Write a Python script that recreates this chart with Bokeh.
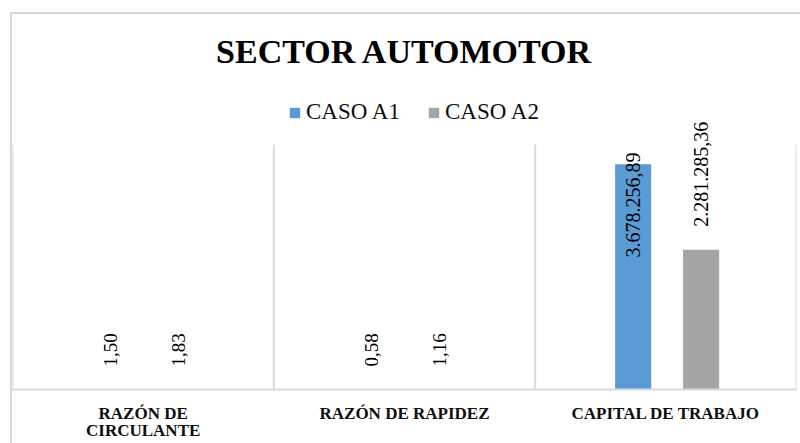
import math
from bokeh.plotting import figure
from bokeh.models import (ColumnDataSource, FactorRange, Range1d, Legend,
                          LegendItem, LabelSet, CategoricalAxis)
from bokeh.transform import dodge
from bokeh.embed import file_html
from bokeh.resources import INLINE

# ---------------- data ----------------
categories = ["RAZÓN DE CIRCULANTE", "RAZÓN DE RAPIDEZ", "CAPITAL DE TRABAJO"]
caso_a1 = [1.50, 0.58, 3678256.89]
caso_a2 = [1.83, 1.16, 2281285.36]
series_names = ["CASO A1", "CASO A2"]
axis_max = 4000000
title_text = "SECTOR AUTOMOTOR"
category_label_lines = {"RAZÓN DE CIRCULANTE": ["RAZÓN DE", "CIRCULANTE"]}

# ---------------- layout / styling ----------------
W, H = 800, 443
frame_top, axis_top_px, frame_bottom = 74, 144, 389   # pixel rows of the plot
series_colors = ["#5B9BD5", "#A5A5A5"]
series_offsets = [-0.125, 0.135]
bar_width = 0.138
grid_color = "#d9d9d9"
label_font = "Liberation Serif"

# extend the data range above the value axis so that labels/legend fit inside
y_end = axis_max * (frame_bottom - frame_top) / (frame_bottom - axis_top_px)


def fmt_es(v):
    s = f"{v:,.2f}"
    return s.replace(",", "§").replace(".", ",").replace("§", ".")


# category labels split into the two printed lines
first_lines = [category_label_lines.get(c, [c])[0] for c in categories]
second_lines = [category_label_lines[c][1] if c in category_label_lines else " " * (i + 1)
                for i, c in enumerate(categories)]

src = ColumnDataSource(dict(cat=categories, a1=caso_a1, a2=caso_a2))

p = figure(x_range=FactorRange(factors=categories, range_padding=0),
           y_range=Range1d(0, y_end),
           x_axis_location=None, y_axis_location=None,
           width=W, height=H,
           output_backend="svg", toolbar_location=None,
           min_border_left=12, min_border_right=4,
           min_border_top=frame_top, min_border_bottom=H - frame_bottom)

p.extra_x_ranges = {"line1": FactorRange(factors=first_lines, range_padding=0),
                    "line2": FactorRange(factors=second_lines, range_padding=0)}

p.background_fill_color = None
p.border_fill_color = None
p.outline_line_color = None
p.grid.visible = False
p.styles = {"box-shadow": "inset 10px 12px 0 0 #ffffff, inset 12px 14px 0 0 #d9d9d9",
            "background": "#ffffff"}

p.title.text = title_text
p.title.align = "center"
p.title.offset = 5
p.title.text_font = "Liberation Serif"
p.title.text_font_style = "bold"
p.title.text_font_size = "34px"
p.title.text_color = "#000000"

axis_style = dict(major_tick_line_color=None, minor_tick_line_color=None,
                  major_tick_out=0, major_tick_in=0,
                  major_label_text_font=label_font,
                  major_label_text_font_style="bold",
                  major_label_text_font_size="17px",
                  major_label_text_color="#0d0d0d")
ax1 = CategoricalAxis(x_range_name="line1", axis_line_color=grid_color, axis_line_width=2,
                      major_label_standoff=14, **axis_style)
ax2 = CategoricalAxis(x_range_name="line2", axis_line_color=None,
                      major_label_standoff=-5, **axis_style)
p.add_layout(ax1, "below")
p.add_layout(ax2, "below")

# vertical gridlines at category boundaries (up to the value axis top)
bsrc = ColumnDataSource(dict(cat=categories, y0=[0] * len(categories),
                             y1=[axis_max] * len(categories)))
esrc = ColumnDataSource(dict(cat=categories[-1:], y0=[0], y1=[axis_max]))
for off, data in ((-0.5, bsrc), (0.5, esrc)):
    p.segment(x0=dodge("cat", off, range=p.x_range), y0="y0",
              x1=dodge("cat", off, range=p.x_range), y1="y1",
              source=data, line_color=grid_color, line_width=2, level="underlay")

renderers = []
for name, col, color, off in zip(series_names, ["a1", "a2"], series_colors, series_offsets):
    r = p.vbar(x=dodge("cat", off, range=p.x_range), top=col, width=bar_width,
               source=src, fill_color=color, line_color=None)
    renderers.append(r)

legend = Legend(items=[LegendItem(label=n, renderers=[r]) for n, r in zip(series_names, renderers)],
                orientation="horizontal", location=(276, 264), padding=0, margin=0,
                spacing=27, label_standoff=5, glyph_width=13, glyph_height=13,
                border_line_color=None, background_fill_alpha=0,
                label_text_font="Liberation Serif", label_text_font_size="23px",
                label_text_color="#0d0d0d")
p.add_layout(legend, "center")

# data labels
for vals, off in zip([caso_a1, caso_a2], series_offsets):
    groups = {"small": ([], [], []), "big": ([], [], []), "clamped": ([], [], [])}
    for c, v in zip(categories, vals):
        if v > 0.8 * axis_max:
            g = "clamped"
        elif v >= 1000:
            g = "big"
        else:
            g = "small"
        groups[g][0].append(c)
        groups[g][1].append(axis_max if g == "clamped" else v)
        groups[g][2].append(fmt_es(v))
    for g, (cs, ys, ts) in groups.items():
        if not cs:
            continue
        ls = LabelSet(x=dodge("cat", off, range=p.x_range), y="y", text="t",
                      source=ColumnDataSource(dict(cat=cs, y=ys, t=ts)),
                      angle=math.pi / 2, text_baseline="middle",
                      text_align="right" if g == "clamped" else "left",
                      y_offset=-8 if g == "clamped" else 23,
                      text_font="Liberation Serif" if g == "small" else "Liberation Sans",
                      text_font_size="19px" if g == "small" else "20px",
                      text_color="#000000")
        p.add_layout(ls)

open("out.html", "w").write(file_html(p, INLINE))
